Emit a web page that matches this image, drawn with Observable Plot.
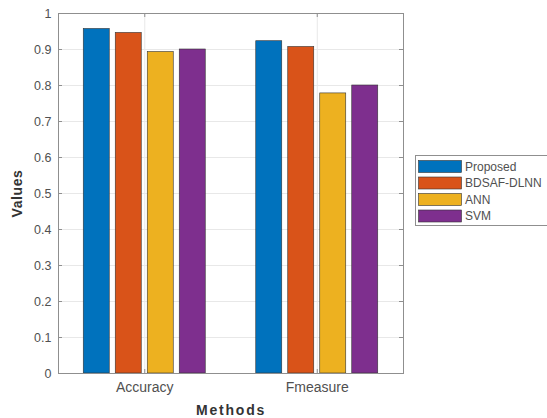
<!DOCTYPE html>
<html>
<head>
<meta charset="utf-8">
<script src="https://cdn.jsdelivr.net/npm/d3@7"></script>
<script src="https://cdn.jsdelivr.net/npm/@observablehq/plot@0.6"></script>
<style>
  body { margin: 0; background: #fff; }
  #chart svg { display: block; }
</style>
</head>
<body>
<div id="chart"></div>
<script>
// Performance metrics (x categories) and compared methods (series)
const metrics = ["Accuracy", "Fmeasure"];
const methods = ["Proposed", "BDSAF-DLNN", "ANN", "SVM"];

// One value per metric, in the order of `metrics`
const proposed  = [0.957, 0.923];
const bdsafDlnn = [0.946, 0.907];
const ann       = [0.893, 0.778];
const svm       = [0.900, 0.800];

const yTicks = [0, 0.1, 0.2, 0.3, 0.4, 0.5, 0.6, 0.7, 0.8, 0.9, 1];
const colors = ["#0072BD", "#D95319", "#EDB120", "#7E2F8E"];

const series = [proposed, bdsafDlnn, ann, svm];
const rows = metrics.flatMap((metric, i) =>
  methods.map((method, k) => ({metric, group: i + 1, k, method, value: series[k][i]}))
);

// Grouped-bar layout (in category units)
const STEP = 0.1855;   // distance between neighbouring bars in a group
const BAR = 0.1507;    // bar width
const left = d => d.group + (d.k - (methods.length - 1) / 2) * STEP - BAR / 2;

const W = 547, H = 418;
const mL = 58, mR = 144, mT = 13, mB = 45;
const unitX = (W - mL - mR) / 2;   // pixels per category unit
const unitY = (H - mT - mB);       // pixels per value unit
const tx = 4 / unitX, ty = 4 / unitY;

const font = "'Liberation Sans', Arial, Helvetica, sans-serif";

const plot = Plot.plot({
  width: W,
  height: H,
  marginLeft: mL,
  marginRight: mR,
  marginTop: mT,
  marginBottom: mB,
  style: {fontFamily: font, fontSize: "12px", color: "#505050", background: "#fff"},
  x: {domain: [0.5, 2.5]},
  y: {domain: [0, 1]},
  color: {domain: methods, range: colors},
  marks: [
    // grid
    Plot.ruleY(yTicks, {stroke: "#e8e8e8"}),
    Plot.ruleX([1, 2], {stroke: "#e8e8e8"}),
    // bars
    Plot.rectY(rows, {
      x1: left,
      x2: d => left(d) + BAR,
      y1: 0,
      y2: "value",
      fill: "method",
      stroke: "#333",
      strokeWidth: 0.6
    }),
    // box and inward ticks on all four sides
    Plot.frame({stroke: "#8f8f8f"}),
    Plot.ruleY(yTicks, {x1: 0.5, x2: 0.5 + tx, stroke: "#8f8f8f"}),
    Plot.ruleY(yTicks, {x1: 2.5 - tx, x2: 2.5, stroke: "#8f8f8f"}),
    Plot.ruleX([1, 2], {y1: 0, y2: ty, stroke: "#8f8f8f"}),
    Plot.ruleX([1, 2], {y1: 1 - ty, y2: 1, stroke: "#8f8f8f"}),
    // axes
    Plot.axisY(yTicks, {tickSize: 0, tickPadding: 7, tickFormat: d => String(d), label: null, fontSize: 12.5}),
    Plot.axisX([1, 2], {tickSize: 0, tickPadding: 9, tickFormat: d => metrics[d - 1], label: null, fontSize: 14}),
    // axis titles
    Plot.text(["Values"], {
      text: d => d, frameAnchor: "left", dx: -41, rotate: -90,
      textAnchor: "middle", lineAnchor: "middle",
      fontWeight: "bold", fontSize: 14, fill: "#333"
    }),
    Plot.text(["Methods"], {
      text: d => d, frameAnchor: "bottom", dy: 37,
      textAnchor: "middle", lineAnchor: "middle",
      fontWeight: "bold", fontSize: 14, fill: "#333"
    })
  ]
});

// Letter spacing for the bold axis titles
d3.select(plot).selectAll("text")
  .filter(function () { return this.textContent === "Methods"; })
  .attr("letter-spacing", "1.8px");
d3.select(plot).selectAll("text")
  .filter(function () { return this.textContent === "Values"; })
  .attr("letter-spacing", "0.6px");

// Legend box to the right of the axes, using the plot's color scale
const color = plot.scale("color");
const svg = d3.select(plot);
const lg = svg.append("g")
  .attr("font-family", font)
  .attr("font-size", 12)
  .attr("text-anchor", "start");
lg.append("rect")
  .attr("x", 415.5).attr("y", 155.5)
  .attr("width", 140).attr("height", 70)
  .attr("fill", "#fff").attr("stroke", "#8f8f8f");
methods.forEach((m, i) => {
  const cy = 166.5 + i * 16.5;
  lg.append("rect")
    .attr("x", 418.5).attr("y", cy - 6)
    .attr("width", 43).attr("height", 12)
    .attr("fill", color.apply(m)).attr("stroke", "#333").attr("stroke-width", 0.6);
  lg.append("text")
    .attr("x", 465).attr("y", cy)
    .attr("dy", "0.35em")
    .attr("text-anchor", "start")
    .attr("fill", "#505050")
    .text(m);
});

document.getElementById("chart").append(plot);
</script>
</body>
</html>
